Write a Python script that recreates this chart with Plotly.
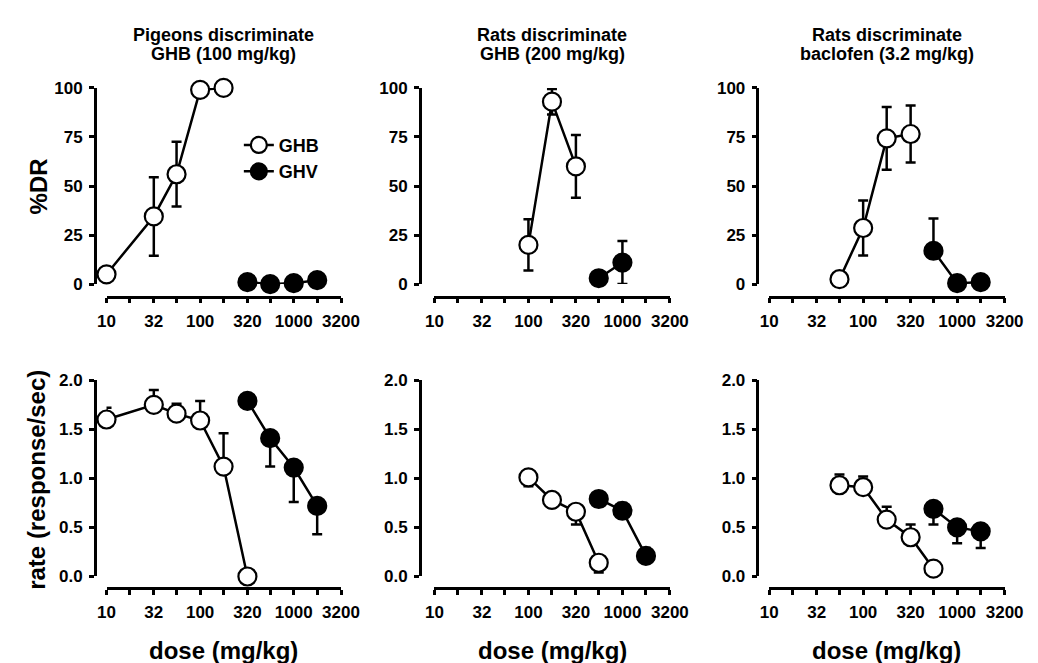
import plotly.graph_objects as go

W, H = 1038, 663

# dose ticks (half-log steps), labelled every other one
tick_doses = [10, 17.8, 32, 56, 100, 178, 320, 560, 1000, 1780, 3200]
tick_labels = ["10", "", "32", "", "100", "", "320", "", "1000", "", "3200"]

# --- pigeons discriminate GHB (100 mg/kg)
pg_ghb_dose = [10, 32, 56, 100, 178]
pg_ghb_dr = [5, 34.5, 56, 99, 100]
pg_ghb_dr_up = [3, 20, 16.5, 0, 0]
pg_ghb_dr_dn = [3, 20, 16.5, 0, 0]
pg_ghv_dose = [320, 560, 1000, 1780]
pg_ghv_dr = [1, 0, 0.5, 2]
pg_ghv_dr_up = [0, 0, 0, 0]
pg_ghv_dr_dn = [0, 0, 0, 0]

pg_ghb_rate_dose = [10, 32, 56, 100, 178, 320]
pg_ghb_rate = [1.60, 1.75, 1.66, 1.59, 1.12, 0.0]
pg_ghb_rate_up = [0.12, 0.15, 0.10, 0.20, 0.34, 0]
pg_ghb_rate_dn = [0, 0, 0, 0, 0, 0]
pg_ghv_rate = [1.79, 1.41, 1.11, 0.72]
pg_ghv_rate_up = [0, 0, 0, 0]
pg_ghv_rate_dn = [0.05, 0.29, 0.35, 0.29]

# --- rats discriminate GHB (200 mg/kg)
rg_ghb_dose = [100, 178, 320]
rg_ghb_dr = [20, 93, 60]
rg_ghb_dr_up = [13, 6.5, 16]
rg_ghb_dr_dn = [13, 6.5, 16]
rg_ghv_dose = [560, 1000]
rg_ghv_dr = [3, 11]
rg_ghv_dr_up = [0, 11]
rg_ghv_dr_dn = [0, 11]

rg_ghb_rate_dose = [100, 178, 320, 560]
rg_ghb_rate = [1.01, 0.78, 0.66, 0.14]
rg_ghb_rate_up = [0, 0, 0, 0]
rg_ghb_rate_dn = [0.09, 0.04, 0.13, 0.10]
rg_ghv_rate_dose = [560, 1000, 1780]
rg_ghv_rate = [0.79, 0.67, 0.21]
rg_ghv_rate_up = [0.04, 0.08, 0.08]
rg_ghv_rate_dn = [0, 0, 0]

# --- rats discriminate baclofen (3.2 mg/kg)
rb_ghb_dose = [56, 100, 178, 320]
rb_ghb_dr = [2.5, 28.6, 74.3, 76.5]
rb_ghb_dr_up = [0, 14, 16, 14.5]
rb_ghb_dr_dn = [0, 14, 16, 14.5]
rb_ghv_dose = [560, 1000, 1780]
rb_ghv_dr = [17, 0.5, 1]
rb_ghv_dr_up = [16.5, 0, 0]
rb_ghv_dr_dn = [0, 0, 0]

rb_ghb_rate_dose = [56, 100, 178, 320, 560]
rb_ghb_rate = [0.93, 0.91, 0.58, 0.40, 0.08]
rb_ghb_rate_up = [0.11, 0.11, 0.13, 0.13, 0]
rb_ghb_rate_dn = [0, 0, 0, 0, 0]
rb_ghv_rate_dose = [560, 1000, 1780]
rb_ghv_rate = [0.69, 0.50, 0.46]
rb_ghv_rate_up = [0, 0, 0]
rb_ghv_rate_dn = [0.16, 0.16, 0.17]

titles = [("Pigeons discriminate", "GHB (100 mg/kg)"),
          ("Rats discriminate", "GHB (200 mg/kg)"),
          ("Rats discriminate", "baclofen (3.2 mg/kg)")]

FONT = "Liberation Sans, Arial, sans-serif"

# pixel layout of the panels
col_x = [(92, 333), (429, 671), (773, 1015)]   # dose 10 .. 3200
col_yaxis = [80, 414, 761]                     # offset y axis line
row_y = [(73, 275), (374, 576)]                # top / bottom value of y range
row_xaxis = [288, 588]                         # offset x axis line


def px(x):
    return x / W


def py(y):
    return 1 - y / H


fig = go.Figure()


def add(n, x, y, up, dn, filled, name, legend):
    fig.add_trace(go.Scatter(
        x=x, y=y, mode="lines+markers", name=name, showlegend=legend,
        xaxis="x%d" % n, yaxis="y%d" % n, cliponaxis=False,
        line=dict(color="black", width=2.5),
        marker=dict(symbol="circle", size=18,
                    color="black" if filled else "white",
                    line=dict(color="black", width=2.2)),
        error_y=dict(type="data", symmetric=False, array=up, arrayminus=dn,
                     color="black", thickness=2.5, width=5)))


add(1, pg_ghb_dose, pg_ghb_dr, pg_ghb_dr_up, pg_ghb_dr_dn, False, "GHB", True)
add(1, pg_ghv_dose, pg_ghv_dr, pg_ghv_dr_up, pg_ghv_dr_dn, True, "GHV", True)
add(2, rg_ghb_dose, rg_ghb_dr, rg_ghb_dr_up, rg_ghb_dr_dn, False, "GHB", False)
add(2, rg_ghv_dose, rg_ghv_dr, rg_ghv_dr_up, rg_ghv_dr_dn, True, "GHV", False)
add(3, rb_ghb_dose, rb_ghb_dr, rb_ghb_dr_up, rb_ghb_dr_dn, False, "GHB", False)
add(3, rb_ghv_dose, rb_ghv_dr, rb_ghv_dr_up, rb_ghv_dr_dn, True, "GHV", False)
add(4, pg_ghb_rate_dose, pg_ghb_rate, pg_ghb_rate_up, pg_ghb_rate_dn, False, "GHB", False)
add(4, pg_ghv_dose, pg_ghv_rate, pg_ghv_rate_up, pg_ghv_rate_dn, True, "GHV", False)
add(5, rg_ghb_rate_dose, rg_ghb_rate, rg_ghb_rate_up, rg_ghb_rate_dn, False, "GHB", False)
add(5, rg_ghv_rate_dose, rg_ghv_rate, rg_ghv_rate_up, rg_ghv_rate_dn, True, "GHV", False)
add(6, rb_ghb_rate_dose, rb_ghb_rate, rb_ghb_rate_up, rb_ghb_rate_dn, False, "GHB", False)
add(6, rb_ghv_rate_dose, rb_ghv_rate, rb_ghv_rate_up, rb_ghv_rate_dn, True, "GHV", False)

tickfont = dict(family=FONT, size=17, color="black", weight="bold")
axes = {}
for r in range(2):
    for c in range(3):
        n = r * 3 + c + 1
        xa = "xaxis" if n == 1 else "xaxis%d" % n
        ya = "yaxis" if n == 1 else "yaxis%d" % n
        x0, x1 = col_x[c]
        y_top, y_bot = row_y[r]
        axes[xa] = dict(
            type="log", range=[1, 3.5051], domain=[px(x0), px(x1)],
            anchor="free", position=py(row_xaxis[r]),
            tickvals=tick_doses, ticktext=tick_labels,
            ticks="outside", ticklen=5, tickwidth=2.5, tickcolor="black",
            showline=True, linecolor="black", linewidth=2.5,
            showgrid=False, zeroline=False, tickfont=tickfont,
            ticklabelstandoff=3, fixedrange=True)
        if r == 0:
            yr, yt, ytxt = [0, 100], [0, 25, 50, 75, 100], ["0", "25", "50", "75", "100"]
        else:
            yr, yt, ytxt = [0, 2], [0, 0.5, 1, 1.5, 2], ["0.0", "0.5", "1.0", "1.5", "2.0"]
        axes[ya] = dict(
            range=yr, domain=[py(y_bot), py(y_top)],
            anchor="free", position=px(col_yaxis[c]),
            tickvals=yt, ticktext=ytxt,
            ticks="outside", ticklen=5, tickwidth=2.5, tickcolor="black",
            showline=True, linecolor="black", linewidth=2.5,
            showgrid=False, zeroline=False, tickfont=tickfont,
            ticklabelstandoff=3, fixedrange=True)

annotations = []
for c, (l1, l2) in enumerate(titles):
    cx = px((col_x[c][0] + col_x[c][1]) / 2)
    for txt, yy in [(l1, 19), (l2, 38)]:
        annotations.append(dict(
            text=txt, x=cx, y=py(yy), xref="paper", yref="paper",
            xanchor="center", yanchor="middle", showarrow=False,
            font=dict(family=FONT, size=18, color="black", weight="bold")))
    annotations.append(dict(
        text="dose (mg/kg)", x=cx, y=py(652), xref="paper", yref="paper",
        xanchor="center", yanchor="middle", showarrow=False,
        font=dict(family=FONT, size=24, color="black", weight="bold")))

annotations.append(dict(
    text="%DR", x=px(22), y=py(174), xref="paper", yref="paper",
    xanchor="center", yanchor="middle", showarrow=False, textangle=-90,
    font=dict(family=FONT, size=24, color="black", weight="bold")))
annotations.append(dict(
    text="rate (response/sec)", x=px(20), y=py(476), xref="paper", yref="paper",
    xanchor="center", yanchor="middle", showarrow=False, textangle=-90,
    font=dict(family=FONT, size=24, color="black", weight="bold")))

fig.update_layout(
    width=W, height=H,
    margin=dict(l=0, r=0, t=0, b=0),
    paper_bgcolor="white", plot_bgcolor="white",
    annotations=annotations,
    legend=dict(x=px(228), y=py(113), xanchor="left", yanchor="top",
                bgcolor="rgba(0,0,0,0)", tracegroupgap=0, itemwidth=30,
                font=dict(family=FONT, size=18, color="black", weight="bold")),
    **axes)

fig.write_html("out.html")
